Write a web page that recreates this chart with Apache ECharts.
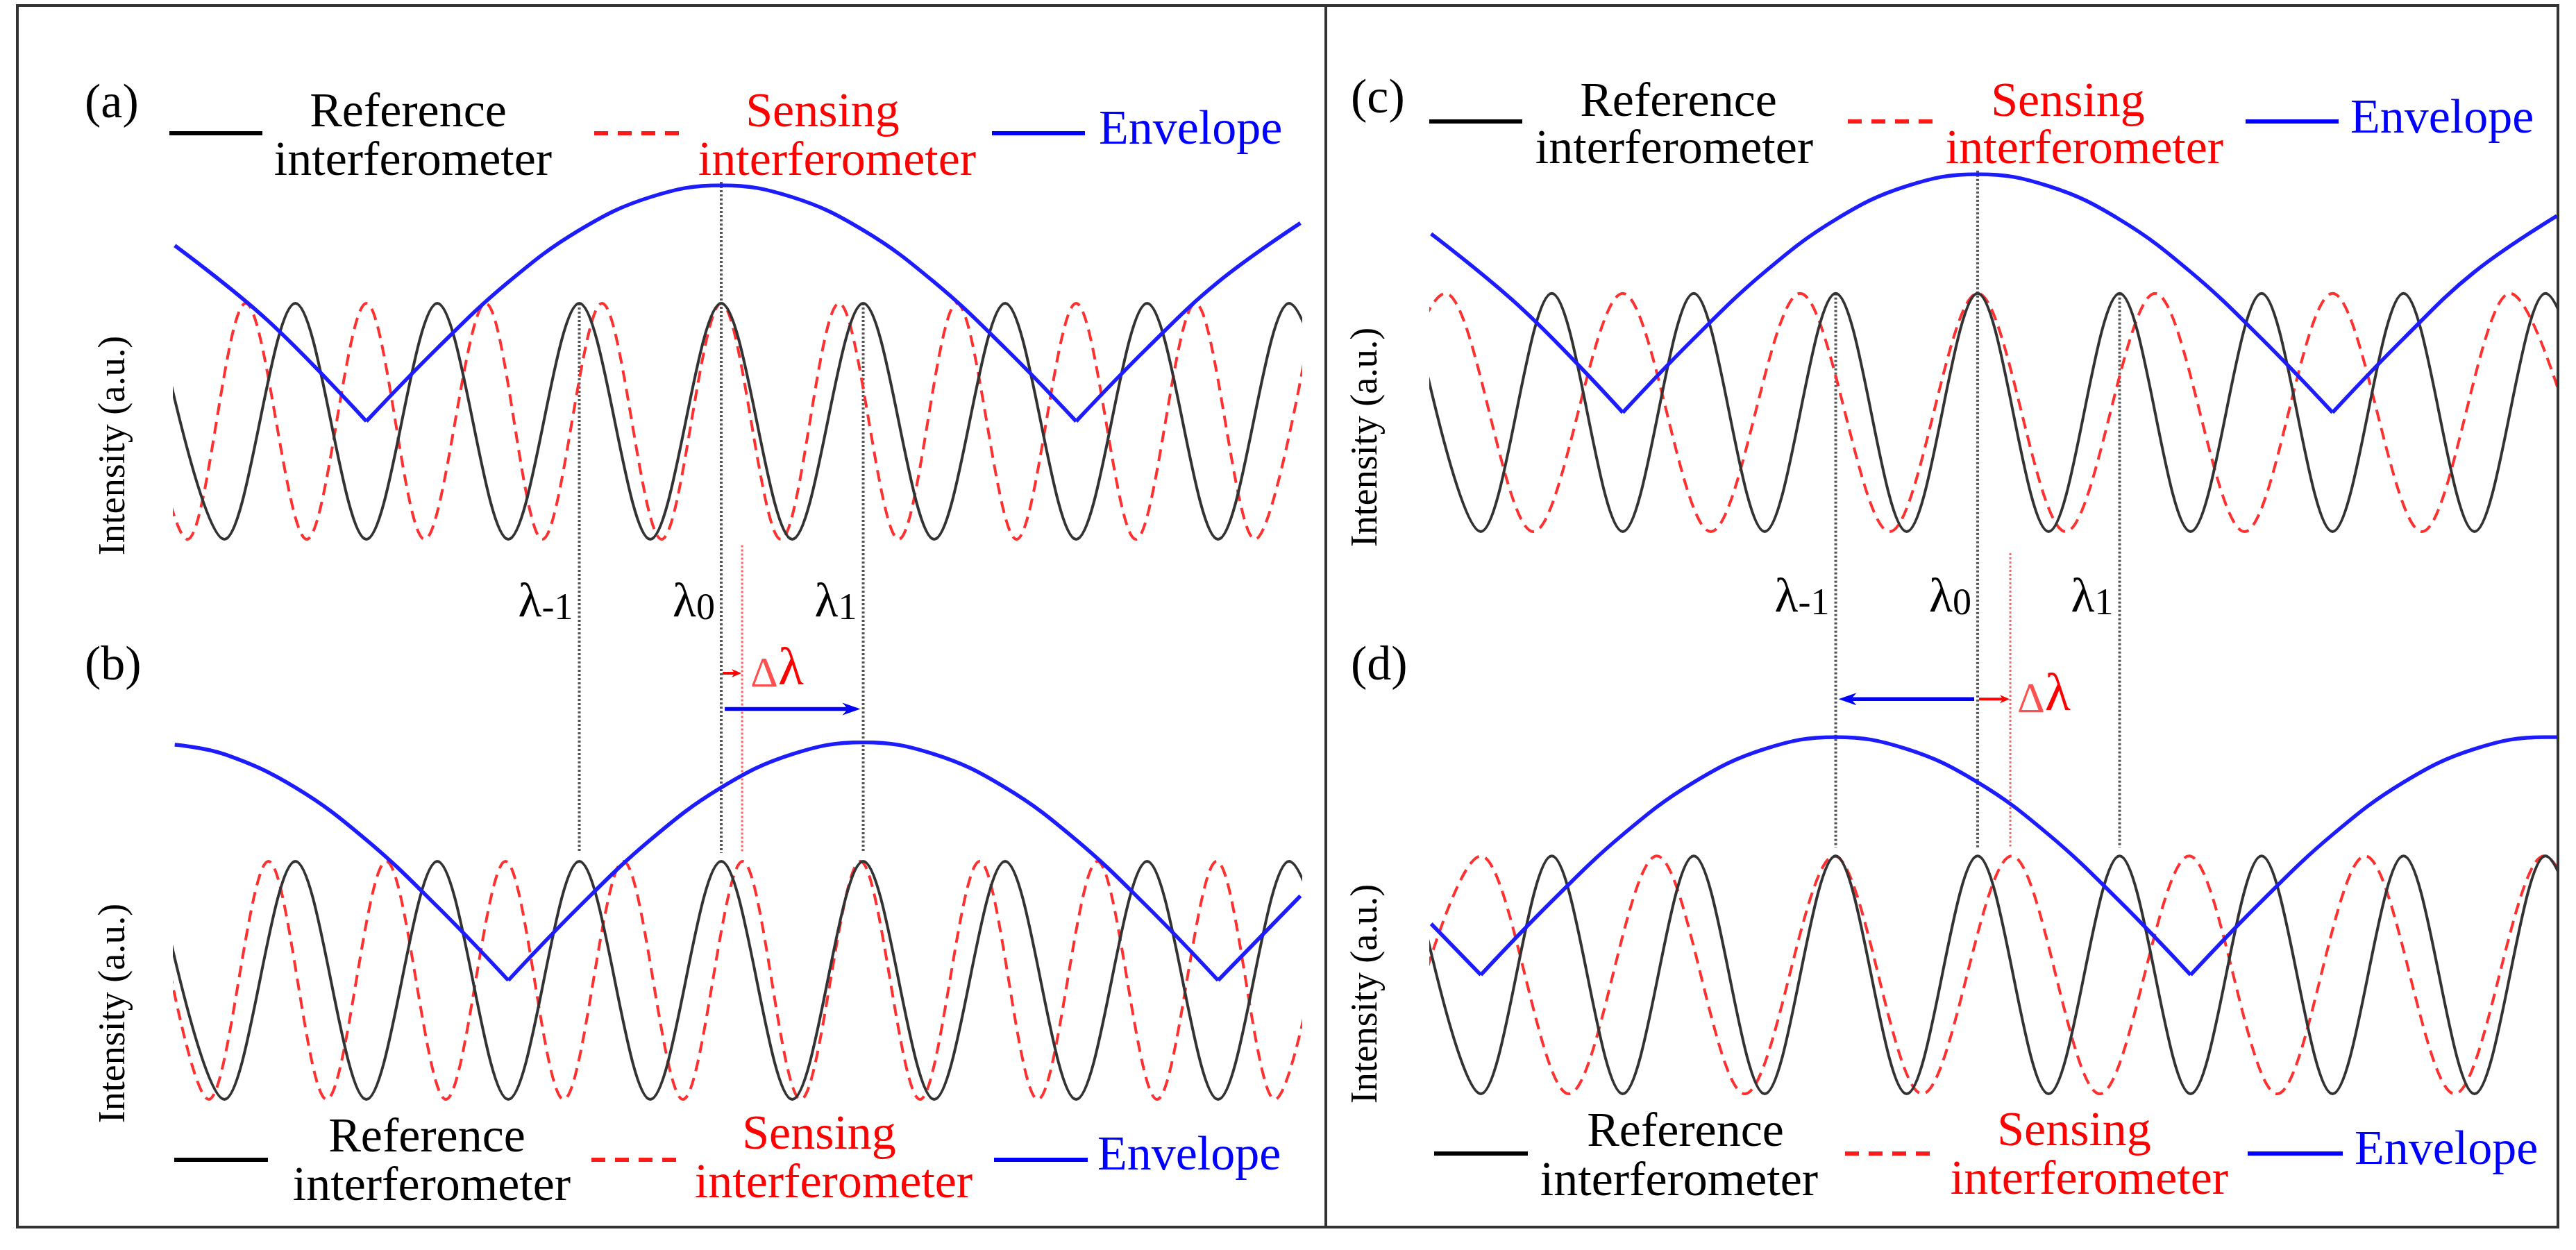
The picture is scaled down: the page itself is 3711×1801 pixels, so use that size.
<!DOCTYPE html>
<html>
<head>
<meta charset="utf-8">
<script src="https://cdn.jsdelivr.net/npm/echarts@6/dist/echarts.min.js"></script>
<style>
  html, body { margin: 0; padding: 0; background: #fff; }
  #chart { width: 3711px; height: 1801px; }
</style>
</head>
<body>
<div id="chart"></div>
<script>
// x: wavelength in units of the reference fringe period (lambda0 = 0)
// y: intensity in units of one fringe amplitude (envelope = sum, 0..2)
const xMin = -3.85, xMax = 4.08;

// reference interferometer, same in all four panels
const refPeaks = [-4, -3, -2, -1, 0, 1, 2, 3, 4];
const refTroughs = [-3.5, -2.5, -1.5, -0.5, 0.5, 1.5, 2.5, 3.5, 4.5];

// sensing interferometer
const senseAPeaks = [-4.18, -3.35, -2.5, -1.66, -0.84, 0, 0.83, 1.66, 2.5, 3.34, 4.18];
const senseATroughs = [-3.76, -2.92, -2.09, -1.26, -0.42, 0.42, 1.25, 2.08, 2.92, 3.76];
const senseBPeaks = [-4.03, -3.19, -2.36, -1.52, -0.69, 0.15, 0.98, 1.82, 2.65, 3.49, 4.32];
const senseBTroughs = [-3.61, -2.78, -1.94, -1.11, -0.27, 0.56, 1.40, 2.23, 3.07, 3.90];
const senseCPeaks = [-3.75, -2.5, -1.25, 0, 1.25, 2.5, 3.75];
const senseCTroughs = [-4.38, -3.13, -1.88, -0.62, 0.62, 1.88, 3.13, 4.38];
const senseDPeaks = [-3.5, -2.26, -1.01, 0.24, 1.49, 2.73, 3.99];
const senseDTroughs = [-4.13, -2.88, -1.64, -0.39, 0.86, 2.11, 3.36, 4.61];

// envelopes, one list per arch (the cusps split them)
const envA = [
  [[-3.85, 1.49], [-3.2, 0.86], [-2.5, 0]],
  [[-2.5, 0], [-2, 0.62], [-1.5, 1.18], [-1, 1.62], [-0.5, 1.9], [0, 2], [0.5, 1.9], [1, 1.62], [1.5, 1.18], [2, 0.62], [2.5, 0]],
  [[2.5, 0], [3, 0.62], [3.5, 1.18], [4.08, 1.68]]
];
const envB = [
  [[-3.85, 1.98], [-3.5, 1.9], [-3, 1.62], [-2.5, 1.18], [-2, 0.62], [-1.5, 0]],
  [[-1.5, 0], [-1, 0.62], [-0.5, 1.18], [0, 1.62], [0.5, 1.9], [1, 2], [1.5, 1.9], [2, 1.62], [2.5, 1.18], [3, 0.62], [3.5, 0]],
  [[3.5, 0], [4.08, 0.71]]
];
const envC = [
  [[-3.85, 1.5], [-3.2, 0.86], [-2.5, 0]],
  [[-2.5, 0], [-2, 0.62], [-1.5, 1.18], [-1, 1.62], [-0.5, 1.9], [0, 2], [0.5, 1.9], [1, 1.62], [1.5, 1.18], [2, 0.62], [2.5, 0]],
  [[2.5, 0], [3, 0.62], [3.5, 1.18], [4.08, 1.65]]
];
const envD = [
  [[-3.85, 0.43], [-3.5, 0]],
  [[-3.5, 0], [-3, 0.62], [-2.5, 1.18], [-2, 1.62], [-1.5, 1.9], [-1, 2], [-0.5, 1.9], [0, 1.62], [0.5, 1.18], [1, 0.62], [1.5, 0]],
  [[1.5, 0], [2, 0.62], [2.5, 1.18], [3, 1.62], [3.5, 1.9], [4, 2], [4.08, 2]]
];

// marked wavelengths and shifts
const markX = [-1, 0, 1];
const markNames = ['-1', '0', '1'];
const shiftB = 0.147;
const shiftD = 0.23;

const FONT = 'Liberation Serif';
const BLACK = '#333333', RED = '#ff3030', BLUE = '#1c1cff';

function wave(peaks, troughs) {
  return peaks.map(x => [x, 1]).concat(troughs.map(x => [x, -1])).sort((p, q) => p[0] - q[0]);
}
function joinArches(arches) {
  const out = [];
  arches.forEach((a, i) => { if (i) out.push([a[0][0], '-']); out.push(...a); });
  return out;
}

const panels = [
  { grid: { left: 251.7, top: 267, width: 1621.7, height: 510 }, sense: wave(senseAPeaks, senseATroughs), env: envA },
  { grid: { left: 251.7, top: 1069.5, width: 1621.7, height: 514.5 }, sense: wave(senseBPeaks, senseBTroughs), env: envB },
  { grid: { left: 2061.7, top: 251, width: 1621.7, height: 515 }, sense: wave(senseCPeaks, senseCTroughs), env: envC },
  { grid: { left: 2061.7, top: 1062, width: 1621.7, height: 514 }, sense: wave(senseDPeaks, senseDTroughs), env: envD }
];
const refData = wave(refPeaks, refTroughs);

const series = [];
panels.forEach((p, i) => {
  series.push({
    type: 'line', xAxisIndex: i, yAxisIndex: i, data: refData, smooth: 0.33,
    showSymbol: false, lineStyle: { color: BLACK, width: 4 }, z: 3
  });
  series.push({
    type: 'line', xAxisIndex: i, yAxisIndex: i, data: p.sense, smooth: 0.33,
    showSymbol: false, lineStyle: { color: RED, width: 4, type: [17, 10] }, z: 2
  });
  series.push({
    type: 'line', xAxisIndex: i, yAxisIndex: i, data: joinArches(p.env), smooth: 0.4,
    showSymbol: false, lineStyle: { color: BLUE, width: 5.5 }, z: 4
  });
});

const chart = echarts.init(document.getElementById('chart'));
chart.setOption({
  animation: false,
  backgroundColor: '#fff',
  grid: panels.map(p => Object.assign({ containLabel: false }, p.grid)),
  xAxis: panels.map((p, i) => ({ type: 'value', gridIndex: i, min: xMin, max: xMax, show: false })),
  yAxis: panels.map((p, i) => ({ type: 'value', gridIndex: i, min: -1, max: 2, show: false })),
  series: series
});

// ---------- annotations ----------
const px = (g, x, y) => chart.convertToPixel({ gridIndex: g }, [x, y]);
const els = [];

function txt(x, y, text, size, color, align, extra) {
  els.push(Object.assign({
    type: 'text', x: x, y: y, z: 20,
    style: { text: text, fill: color, fontSize: size, fontFamily: FONT,
      align: align || 'left', verticalAlign: 'middle' }
  }, extra || {}));
}
// baseline -> middle of the em box
const mid = (base, size) => base - 0.3 * size;

function hline(x1, x2, y, color, w, dash) {
  els.push({ type: 'line', z: 20, shape: { x1: x1, y1: y, x2: x2, y2: y },
    style: { stroke: color, lineWidth: w, lineDash: dash || null } });
}
function vline(x, y1, y2, color, w, dash) {
  els.push({ type: 'line', z: 1, shape: { x1: x, y1: y1, x2: x, y2: y2 },
    style: { stroke: color, lineWidth: w, lineDash: dash } });
}
function arrow(x1, x2, y, color, w, headL, headW) {
  const dir = x2 > x1 ? 1 : -1;
  hline(x1, x2 - dir * headL * 0.6, y, color, w);
  els.push({ type: 'polygon', z: 21, shape: { points: [
    [x2, y], [x2 - dir * headL, y - headW], [x2 - dir * headL * 0.7, y], [x2 - dir * headL, y + headW]
  ] }, style: { fill: color } });
}

// legends
function legend(L) {
  hline(L.k[0], L.k[1], L.ly, '#000', 6);
  txt(L.rc[0], mid(L.rc[1], 70), 'Reference', 70, '#000', 'center');
  txt(L.ri[0], mid(L.ri[1], 70), 'interferometer', 70, '#000', 'center');
  hline(L.r[0], L.r[1], L.ly, '#ff1a1a', 6, [20, 14]);
  txt(L.sc[0], mid(L.sc[1], 70), 'Sensing', 70, '#ff0000', 'center');
  txt(L.si[0], mid(L.si[1], 70), 'interferometer', 70, '#ff0000', 'center');
  hline(L.b[0], L.b[1], L.ly, '#0000ff', 6);
  txt(L.e[0], mid(L.e[1], 70), 'Envelope', 70, '#0000ff', 'left');
}
legend({ ly: 192, k: [244, 378], rc: [588, 185], ri: [595, 255], r: [856, 989], sc: [1185, 185], si: [1206, 255], b: [1429, 1563], e: [1583, 210] });
legend({ ly: 175, k: [2059, 2193], rc: [2418, 170], ri: [2412, 238], r: [2662, 2796], sc: [2979, 170], si: [3003, 238], b: [3235, 3369], e: [3386, 194] });
legend({ ly: 1671, k: [251, 386], rc: [615, 1662], ri: [622, 1732], r: [852, 987], sc: [1180, 1658], si: [1201, 1728], b: [1432, 1567], e: [1581, 1688] });
legend({ ly: 1662, k: [2066, 2201], rc: [2428, 1654], ri: [2419, 1725], r: [2658, 2793], sc: [2988, 1653], si: [3010, 1723], b: [3238, 3375], e: [3392, 1680] });

// panel tags
txt(122, mid(172, 70), '(a)', 70, '#000');
txt(122, mid(982, 70), '(b)', 70, '#000');
txt(1946, mid(165, 70), '(c)', 70, '#000');
txt(1946, mid(982, 70), '(d)', 70, '#000');

// y titles
[[165, 642], [165, 1460], [1969, 630], [1969, 1432]].forEach(c => {
  txt(c[0], c[1], 'Intensity (a.u.)', 54, '#000', 'center', { rotation: Math.PI / 2 });
});

// guides, labels, shift arrows for the two halves
const halves = [
  { top: 0, bot: 1, shift: shiftB, shiftTop: -1.05, labelBase: 905, blueY: 2.28, redY: 2.58, blueTo: 1, dl: [12, 966] },
  { top: 2, bot: 3, shift: shiftD, shiftTop: -1.18, labelBase: 898, blueY: 2.32, redY: 2.32, blueTo: -1, dl: [10, 1003] }
];
halves.forEach(h => {
  markX.forEach((m, i) => {
    const a = px(h.top, m, m === 0 ? 2.03 : 1);
    const b = px(h.bot, m, 1.07);
    vline(a[0], a[1], b[1], '#555', 4, [3, 3]);
    els.push({ type: 'text', x: a[0] - 9, y: h.labelBase, z: 20, style: {
      text: '{l|λ}{s|' + markNames[i] + '}', align: 'right', verticalAlign: 'bottom',
      rich: {
        l: { fontSize: 70, fontFamily: FONT, fill: '#000', lineHeight: 70, verticalAlign: 'bottom' },
        s: { fontSize: 54, fontFamily: FONT, fill: '#000', lineHeight: 70, verticalAlign: 'bottom' }
      } } });
  });
  const s1 = px(h.top, h.shift, h.shiftTop);
  const s2 = px(h.bot, h.shift, 1.08);
  vline(s1[0], s1[1], s2[1], '#ff6060', 3, [3, 3]);

  const l0 = px(h.bot, 0, h.blueY);
  const lb = px(h.bot, h.blueTo, h.blueY);
  const dir = h.blueTo > 0 ? 1 : -1;
  arrow(l0[0] + dir * 5, lb[0] - dir * 4, l0[1], '#0000ff', 5.5, 26, 9);
  const r0 = px(h.bot, 0, h.redY);
  const rs = px(h.bot, h.shift, h.redY);
  arrow(r0[0] + 2, rs[0] - 1, r0[1], '#ff0000', 4, 14, 6);
  els.push({ type: 'text', x: rs[0] + h.dl[0], y: h.dl[1], z: 20, style: {
    text: '{d|Δ}{l|λ}', align: 'left', verticalAlign: 'middle',
    rich: {
      d: { fontSize: 62, fontFamily: FONT, fill: '#ff5050', lineHeight: 76, verticalAlign: 'bottom' },
      l: { fontSize: 76, fontFamily: FONT, fill: '#ff0000', lineHeight: 76, verticalAlign: 'bottom' }
    } } });
});

// frames
els.push({ type: 'rect', z: 30, shape: { x: 25, y: 8, width: 1885, height: 1760 }, style: { fill: null, stroke: '#333', lineWidth: 4 } });
els.push({ type: 'rect', z: 30, shape: { x: 1910, y: 8, width: 1775, height: 1760 }, style: { fill: null, stroke: '#333', lineWidth: 4 } });

chart.setOption({ graphic: { elements: els } });
</script>
</body>
</html>
